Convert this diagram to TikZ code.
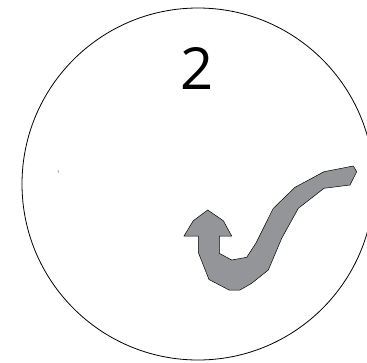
\documentclass[tikz,border=0pt]{standalone}
\usepackage{fontspec}
\setmainfont{Open Sans}
\usepackage{xcolor}
\usepackage{tikz}
\definecolor{arrowgray}{RGB}{147,149,152}

\begin{document}
\begin{tikzpicture}[x=1pt,y=-1pt]
\useasboundingbox (0,0) rectangle (367,362);
\clip (0,0) rectangle (367,362);
\draw[line width=0.8pt] (198,184) circle (176);
\node[anchor=base,inner sep=0pt] (num) at (197,89) {\fontsize{58}{58}\selectfont 2};
\draw[gray,line width=0.6pt] (58,170) -- (58.6,172.5);
\fill[arrowgray, draw=black, line width=0.5pt] (207.7,210) -- (223.3,220.7) -- (231.7,236) -- (219.3,236) -- (219.3,253.3) -- (231.7,260) -- (246.7,257.3) -- (256,243) -- (273.3,208.3) -- (295,187.3) -- (324,171.7) -- (353.3,166) -- (356.7,171.7) -- (350,185) -- (324,188.3) -- (298.3,208.3) -- (281.7,238.3) -- (268.3,270) -- (251.7,283.3) -- (240,290) -- (229,290) -- (209,279.5) -- (198.5,253) -- (198.3,236) -- (184,236) -- (193.3,220.7) -- cycle;
\end{tikzpicture}
\end{document}
